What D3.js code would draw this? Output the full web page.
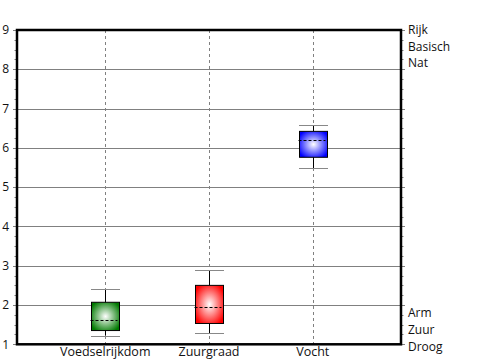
<!DOCTYPE html>
<html>
<head>
<meta charset="utf-8">
<script src="https://cdn.jsdelivr.net/npm/d3@7"></script>
<style>
  html, body { margin: 0; padding: 0; background: #fff; }
  svg { display: block; }
  text { font-family: "Open Sans", "Noto Sans", sans-serif; font-size: 12px; fill: #111; }
  .cat { font-size: 12.5px; }
</style>
</head>
<body>
<script>
const categories = ["Voedselrijkdom", "Zuurgraad", "Vocht"];
const whiskerLow = [1.22, 1.28, 5.48];
const q1 = [1.35, 1.53, 5.76];
const median = [1.62, 1.94, 6.19];
const q3 = [2.07, 2.50, 6.42];
const whiskerHigh = [2.40, 2.88, 6.57];
const boxColors = ["#007a00", "#ff0000", "#0000ff"];
const yTicks = [1, 2, 3, 4, 5, 6, 7, 8, 9];
const rightTopLabels = ["Rijk", "Basisch", "Nat"];
const rightBottomLabels = ["Arm", "Zuur", "Droog"];

const W = 500, H = 360;
const mLeft = 17, mRight = 401, mTop = 30, mBottom = 344.3;

const svg = d3.select("body").append("svg").attr("width", W).attr("height", H);
const defs = svg.append("defs");

const x = d3.scalePoint().domain(categories).range([mLeft, mRight]).padding(0.85);
const y = d3.scaleLinear().domain([1, 9]).range([mBottom, mTop]);

// gradients
categories.forEach((c, i) => {
  const g = defs.append("radialGradient").attr("id", "grad" + i)
    .attr("cx", "50%").attr("cy", "50%").attr("r", "60%");
  g.append("stop").attr("offset", "0%").attr("stop-color", "#ffffff");
  g.append("stop").attr("offset", "100%").attr("stop-color", boxColors[i]);
});
defs.append("filter").attr("id", "blur").append("feGaussianBlur").attr("stdDeviation", 1);

// horizontal gridlines (extending as major ticks)
svg.append("g").selectAll("line").data(yTicks).join("line")
  .attr("x1", mLeft - 4).attr("x2", mRight + 4)
  .attr("y1", d => Math.round(y(d)) + 0.5).attr("y2", d => Math.round(y(d)) + 0.5)
  .attr("stroke", "#808080").attr("stroke-width", 1);

// minor ticks
const minor = d3.range(1, 9.001, 0.25).filter(v => Math.abs(v - Math.round(v)) > 0.01);
svg.append("g").selectAll("line").data(minor).join("line")
  .attr("x1", mLeft - 2.5).attr("x2", mLeft - 1)
  .attr("y1", d => Math.round(y(d)) + 0.5).attr("y2", d => Math.round(y(d)) + 0.5)
  .attr("stroke", "#808080");
svg.append("g").selectAll("line").data(minor).join("line")
  .attr("x1", mRight + 1).attr("x2", mRight + 2.5)
  .attr("y1", d => Math.round(y(d)) + 0.5).attr("y2", d => Math.round(y(d)) + 0.5)
  .attr("stroke", "#808080");

// vertical dashed category lines
svg.append("g").selectAll("line").data(categories).join("line")
  .attr("x1", d => Math.round(x(d)) + 0.5).attr("x2", d => Math.round(x(d)) + 0.5)
  .attr("y1", mTop).attr("y2", mBottom)
  .attr("stroke", "#808080").attr("stroke-dasharray", "3,3");

// y tick labels
svg.append("g").selectAll("text").data(yTicks).join("text")
  .attr("x", 9).attr("y", d => y(d)).attr("dy", "0.35em")
  .attr("text-anchor", "end").text(d => d);

// boxes
const bw = 28, cw = 29;
const gBox = svg.append("g");
categories.forEach((c, i) => {
  const cx = Math.round(x(c)) + 0.5;
  // blurred shadow under lower cap
  gBox.append("line")
    .attr("x1", cx - cw / 2).attr("x2", cx + cw / 2)
    .attr("y1", y(whiskerLow[i]) - 9).attr("y2", y(whiskerLow[i]) - 9)
    .attr("stroke", "#bbb").attr("stroke-width", 1.5).attr("filter", "url(#blur)").attr("opacity", 0.6);
  // stems
  gBox.append("line").attr("x1", cx).attr("x2", cx)
    .attr("y1", y(whiskerHigh[i])).attr("y2", y(q3[i])).attr("stroke", "#000");
  gBox.append("line").attr("x1", cx).attr("x2", cx)
    .attr("y1", y(q1[i])).attr("y2", y(whiskerLow[i])).attr("stroke", "#000");
  // caps
  [whiskerLow[i], whiskerHigh[i]].forEach(v => {
    gBox.append("line").attr("x1", cx - cw / 2).attr("x2", cx + cw / 2)
      .attr("y1", Math.round(y(v)) + 0.5).attr("y2", Math.round(y(v)) + 0.5)
      .attr("stroke", "#888");
  });
  // box
  gBox.append("rect")
    .attr("x", cx - bw / 2).attr("width", bw)
    .attr("y", y(q3[i])).attr("height", y(q1[i]) - y(q3[i]))
    .attr("fill", `url(#grad${i})`).attr("stroke", "#000").attr("stroke-width", 1);
  // median
  gBox.append("line").attr("x1", cx - bw / 2 - 1).attr("x2", cx + bw / 2 - 2)
    .attr("y1", Math.round(y(median[i])) + 0.5).attr("y2", Math.round(y(median[i])) + 0.5)
    .attr("stroke", "#000").attr("stroke-dasharray", "3,2");
});

// frame
svg.append("rect").attr("x", mLeft).attr("y", mTop)
  .attr("width", mRight - mLeft).attr("height", mBottom - mTop)
  .attr("fill", "none").attr("stroke", "#000").attr("stroke-width", 2.5);

// category labels
svg.append("g").selectAll("text").data(categories).join("text")
  .attr("class", "cat")
  .attr("x", d => x(d)).attr("y", 356).attr("text-anchor", "middle").text(d => d);

// right labels
svg.append("g").selectAll("text").data(rightTopLabels).join("text")
  .attr("x", 408).attr("y", (d, i) => y(9) + 4 + i * 16.7).text(d => d);
svg.append("g").selectAll("text").data(rightBottomLabels).join("text")
  .attr("x", 408).attr("y", (d, i) => y(1) + 6.4 - (rightBottomLabels.length - 1 - i) * 16.7).text(d => d);
</script>
</body>
</html>
